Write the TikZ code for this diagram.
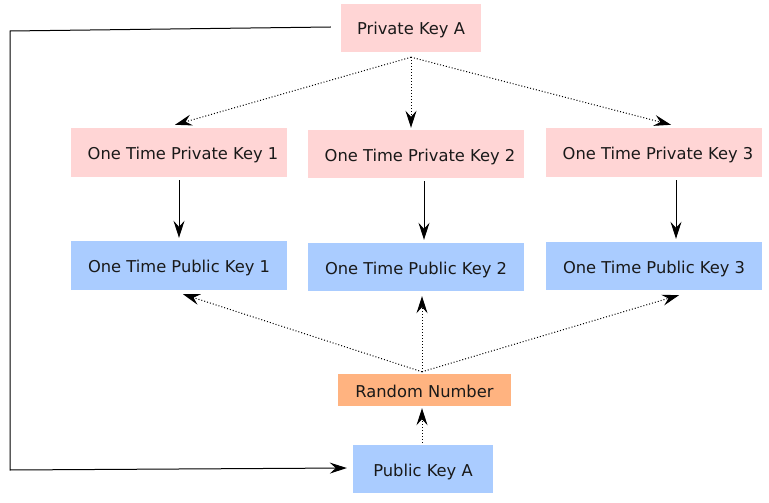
\documentclass[tikz,border=0pt]{standalone}
\usepackage{fontspec}
\setmainfont{DejaVu Sans}
\usetikzlibrary{arrows.meta}
\definecolor{pinkbox}{HTML}{FFD5D5}
\definecolor{bluebox}{HTML}{AACCFF}
\definecolor{orangebox}{HTML}{FFB380}
\begin{document}
\begin{tikzpicture}[x=1pt,y=-1pt,
  keybox/.style={inner sep=0pt, text height=14pt, text depth=0pt, font=\fontsize{16.3}{19}\selectfont, text=black!90},
  privbox/.style={keybox, fill=pinkbox},
  pubbox/.style={keybox, fill=bluebox},
  randbox/.style={keybox, fill=orangebox},
  tip/.style={-{Stealth[length=17pt,width=11pt,inset=6pt]}},
  solidarrow/.style={tip, line width=1pt},
  dotarrow/.style={tip, line width=1pt, dash pattern=on 1pt off 2pt},
]
\useasboundingbox (0,0) rectangle (769,503);
\fill[white] (0,0) rectangle (769,503);

\node[privbox, minimum width=140pt, minimum height=48pt] (pka) at (411,28) {Private Key A};
\node[privbox, minimum width=216pt, minimum height=49pt] (k1) at (179,152.5) {\hspace{8pt}One Time Private Key 1};
\node[privbox, minimum width=216pt, minimum height=48pt] (k2) at (416,154) {\hspace{8pt}One Time Private Key 2};
\node[privbox, minimum width=216pt, minimum height=49pt] (k3) at (654,152.5) {\hspace{8pt}One Time Private Key 3};
\node[pubbox, minimum width=216pt, minimum height=49pt] (p1) at (179,265.5) {One Time Public Key 1};
\node[pubbox, minimum width=216pt, minimum height=48pt] (p2) at (416,267) {One Time Public Key 2};
\node[pubbox, minimum width=216pt, minimum height=48pt] (p3) at (654,266) {One Time Public Key 3};
\node[randbox, minimum width=173pt, minimum height=32pt] (rn) at (424.5,390) {Random Number};
\node[pubbox, minimum width=140pt, minimum height=48pt] (pua) at (423,469) {Public Key A\hspace{8pt}};

\coordinate (c1) at (10,31);
\coordinate (c2) at (10,470);

% left loop connector
\draw[line width=1pt, tip] ([xshift=-10pt,yshift=1pt]pka.west) -- (c1) -- (c2) -- ([xshift=-6pt,yshift=1pt]pua.west);

% from Private Key A
\draw[dotarrow] ([yshift=-5pt]pka.south) -- ([xshift=-4pt,yshift=3pt]k1.north);
\draw[dotarrow] ([yshift=-5pt]pka.south) -- ([yshift=2pt]pka.south |- k2.north);
\draw[dotarrow] ([yshift=-5pt]pka.south) -- ([xshift=17pt,yshift=3pt]k3.north);

% private to public
\draw[solidarrow] ([yshift=-3pt]k1.south) -- ([yshift=3pt]p1.north);
\draw[solidarrow] ([xshift=8pt,yshift=-3pt]k2.south) -- ([xshift=8pt,yshift=3pt]p2.north);
\draw[solidarrow] ([xshift=22pt,yshift=-3pt]k3.south) -- ([xshift=22pt,yshift=3pt]p3.north);

% random number to public keys
\draw[dotarrow] ([xshift=-2.5pt,yshift=2pt]rn.north) -- ([xshift=4pt,yshift=-4pt]p1.south);
\draw[dotarrow] ([xshift=-2.5pt,yshift=2pt]rn.north) -- ([xshift=6pt,yshift=-5pt]p2.south);
\draw[dotarrow] ([xshift=-2.5pt,yshift=2pt]rn.north) -- ([xshift=25pt,yshift=-5pt]p3.south);

% public key A to random number
\draw[dotarrow] ([xshift=-1pt,yshift=2pt]pua.north) -- ([xshift=-2.5pt,yshift=-2pt]rn.south);
\end{tikzpicture}
\end{document}
